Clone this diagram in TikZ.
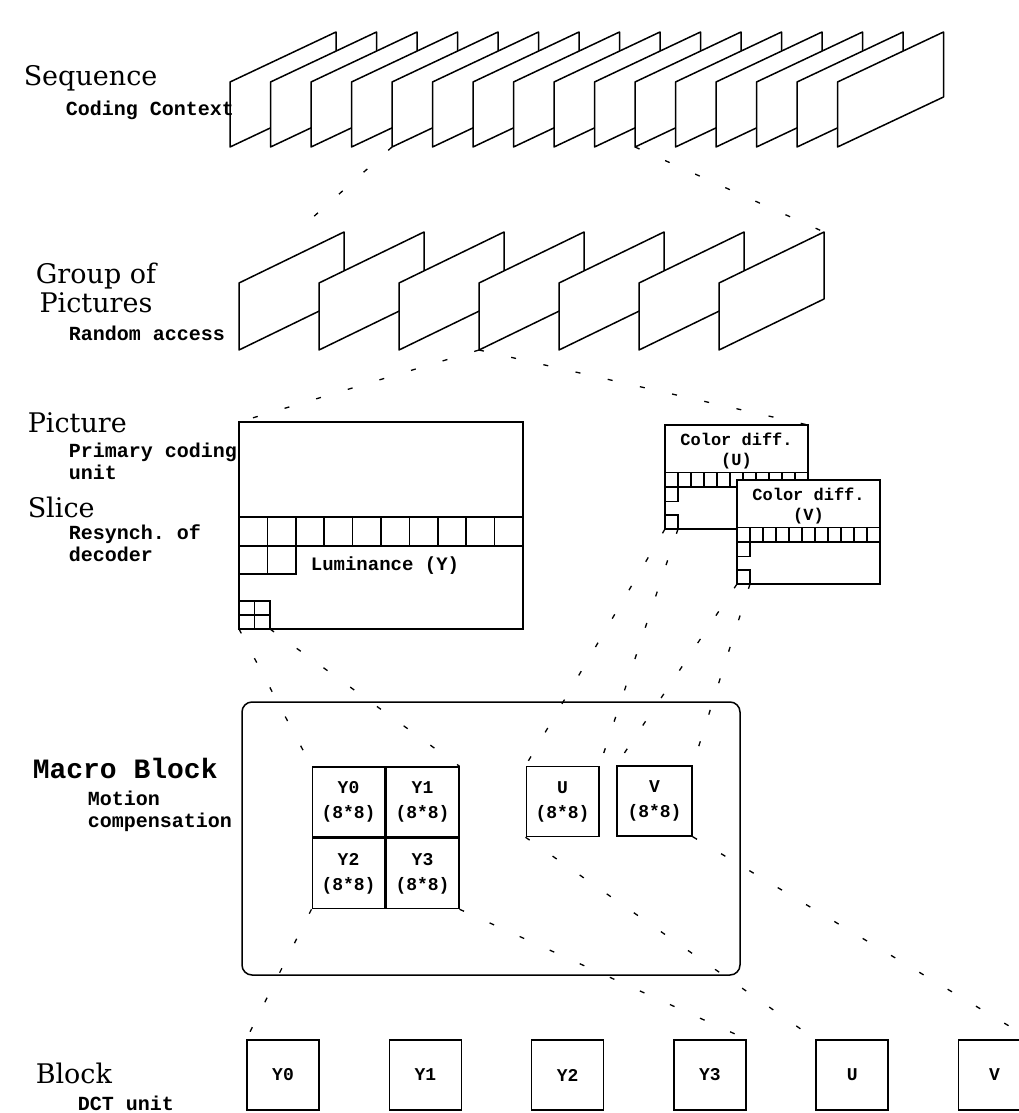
\documentclass[tikz,border=0pt]{standalone}
\usepackage{fontspec}
\setmainfont{DejaVu Serif}
\setmonofont{Liberation Mono}
\usetikzlibrary{positioning, calc}

\begin{document}
\begin{tikzpicture}[x=1pt, y=-1pt, line width=1.5pt,
  frame/.style={draw=black, fill=white, line join=round},
  lvl/.style={font=\fontsize{27}{29}\selectfont, anchor=west, inner sep=0pt},
  sub/.style={font=\ttfamily\bfseries\fontsize{20}{22}\selectfont, anchor=west, inner sep=0pt, align=left},
  boxtxt/.style={font=\ttfamily\bfseries\fontsize{18}{25}\selectfont, align=center},
  mbcell/.style={draw, minimum width=72.5pt, minimum height=70pt, inner sep=0pt, boxtxt},
  blk/.style={draw, minimum width=72pt, minimum height=70pt, inner sep=0pt, boxtxt},
  link/.style={line width=1.3pt, dash pattern=on 5pt off 28pt}]
  \useasboundingbox (0,0) rectangle (1018,1113);

  % Sequence: 16 frames
  \foreach \i in {0,...,15} {
    \draw[frame] ({230+40.5*\i},82) -- ++(106,-50) -- ++(0,65) -- ++(-106,50) -- cycle;
  }
  \coordinate (s4) at (392,147);
  \coordinate (s10) at (635,147);

  % Group of pictures: 7 frames
  \foreach \i in {0,...,6} {
    \draw[frame] ({239+80*\i},283) -- ++(105,-51) -- ++(0,67) -- ++(-105,51) -- cycle;
  }
  \coordinate (g0) at (239,283);
  \coordinate (g3) at (479,350);
  \coordinate (g6) at (824,232);

  % Picture (luminance) with slice row
  \draw (239,422) rectangle (523,629);
  \draw (239,517) -- (523,517);
  \draw (239,546) -- (523,546);
  \foreach \k in {1,...,9} {
    \draw ({239+28.4*\k},517) -- ++(0,29);
  }
  \draw (239,574) -- (296,574) -- (296,546);
  \draw (267.4,546) -- (267.4,574);
  \draw (239,601) -- (270,601) -- (270,629);
  \draw (254.5,601) -- (254.5,629);
  \draw (239,615) -- (270,615);
  \node[sub, anchor=center, font=\ttfamily\bfseries\fontsize{19}{21}\selectfont] (lumtxt) at (385,566) {Luminance (Y)};
  \coordinate (lumbl) at (239,629);
  \coordinate (lumbr) at (270,629);

  % Color difference pictures
  \foreach \bx/\by/\lbl in {665/425/U, 737/480/V} {
    \draw[fill=white] (\bx,\by) rectangle ++(143,104);
    \draw (\bx,{\by+47.5}) -- ++(143,0);
    \draw (\bx,{\by+62}) -- ++(143,0);
    \foreach \k in {1,...,10} {
      \draw ({\bx+13*\k},{\by+47.5}) -- ++(0,14.5);
    }
    \draw (\bx,{\by+76.5}) -- ++(13,0) -- ++(0,-14.5);
    \draw (\bx,{\by+90}) -- ++(13,0) -- ++(0,14);
    \node[boxtxt, font=\ttfamily\bfseries\fontsize{17}{19}\selectfont] at ({\bx+71.5},{\by+14}) {Color diff.};
    \node[boxtxt, font=\ttfamily\bfseries\fontsize{17}{19}\selectfont] at ({\bx+71.5},{\by+36}) {(\lbl)};
  }
  \coordinate (cub) at (665,529);
  \coordinate (cubr) at (678,529);
  \coordinate (cvb) at (737,584);
  \coordinate (cvbr) at (750,584);

  % Macro block
  \draw[rounded corners=10pt] (242,702) rectangle (740,975);
  \node[mbcell] (y0) at (348.5,802) {Y0\\(8*8)};
  \node[mbcell, right=0pt of y0] (y1) {Y1\\(8*8)};
  \node[mbcell, below=0pt of y0] (y2) {Y2\\(8*8)};
  \node[mbcell, right=0pt of y2] (y3) {Y3\\(8*8)};
  \node[mbcell] (u) at (562.5,801.5) {U\\(8*8)};
  \node[mbcell, minimum width=75pt] (v) at (654.5,801) {V\\(8*8)};

  % Blocks
  \foreach \n [count=\c from 0] in {Y0,Y1,Y2,Y3,U,V} {
    \node[blk] (b\c) at ({283+142.3*\c},1075) {\n};
  }

  % Level labels
  \node[lvl] (seqlbl) at (23,78) {Sequence};
  \node[sub] (seqsub) at (65,110) {Coding Context};
  \node[lvl, anchor=center, align=center] (goplbl) at (96,288) {Group of\\Pictures};
  \node[sub] (gopsub) at (68,333) {Random access};
  \node[lvl] (piclbl) at (27,423) {Picture};
  \node[sub] (picsub) at (68,461) {Primary coding\\unit};
  \node[lvl] (slicelbl) at (27,507) {Slice};
  \node[sub] (slicesub) at (68,543.5) {Resynch. of\\decoder};
  \node[sub, font=\ttfamily\bfseries\fontsize{28}{30}\selectfont] (mblbl) at (32,768) {Macro Block};
  \node[sub] (mbsub) at (87,811) {Motion\\compensation};
  \node[lvl] (blklbl) at (35,1073) {Block};
  \node[sub] (blksub) at (77,1103) {DCT unit};

  % Dotted links between levels
  \draw[link, shorten >=95pt] (s4) -- (g0);
  \draw[link] (s10) -- (g6);
  \draw[link] (g3) -- (239,422);
  \draw[link] (g3) -- (808,425);
  \draw[link] (lumbl) -- (y0.north west);
  \draw[link] (lumbr) -- (y1.north east);
  \draw[link] (cub) -- (u.north west);
  \draw[link] (cubr) -- (u.north east);
  \draw[link] (cvb) -- (v.north west);
  \draw[link] (cvbr) -- (v.north east);
  \draw[link] (y2.south west) -- (b0.north west);
  \draw[link] (y3.south east) -- (b3.north east);
  \draw[link] (u.south west) -- (b4.north west);
  \draw[link] (v.south east) -- (b5.north east);
\end{tikzpicture}
\end{document}
